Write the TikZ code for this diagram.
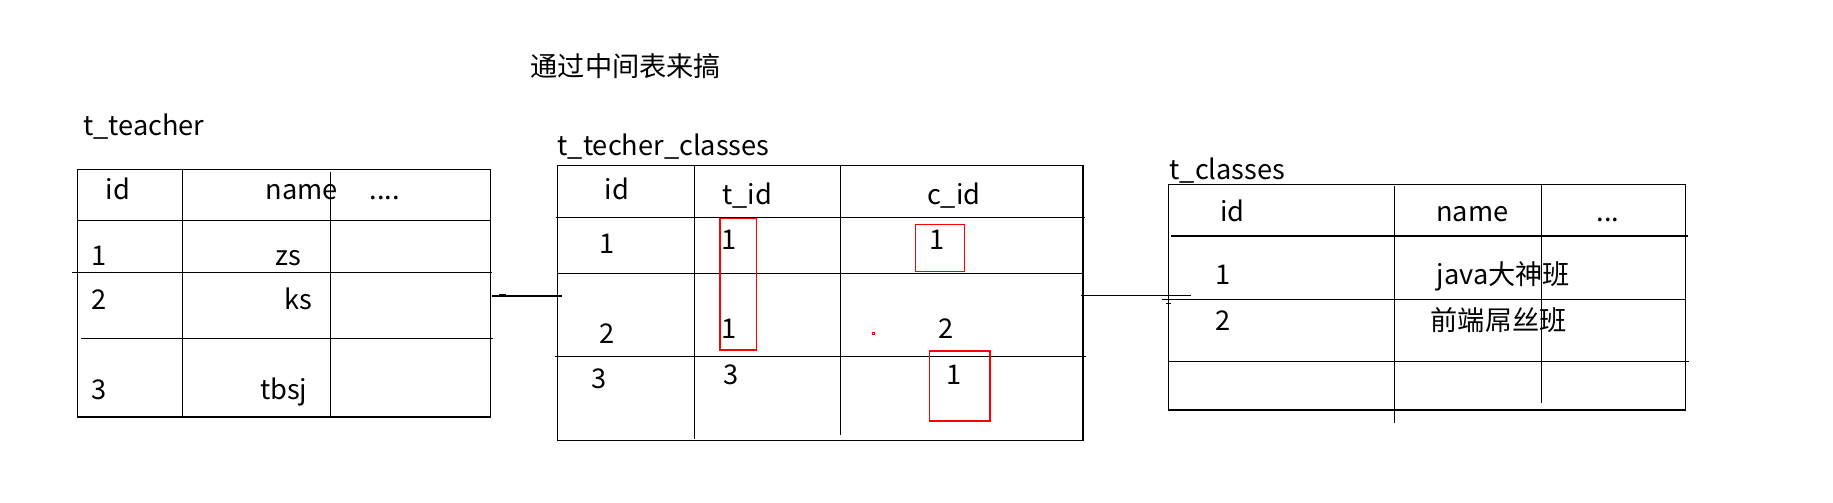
\documentclass[tikz,border=0pt]{standalone}
\usepackage{fontspec}
\setmainfont{Noto Sans CJK SC}
\begin{document}
\begin{tikzpicture}[x=0.5pt,y=-0.5pt,line width=0.6pt,
  txt/.style={anchor=base west,inner sep=0pt,font=\fontsize{13.6pt}{16pt}\selectfont},
  grid/.style={draw=black,line width=0.6pt},
  redbox/.style={draw=red,line width=0.55pt}]
\useasboundingbox[fill=white] (0,0) rectangle (1833,503);

% title
\node[txt] (title) at (530,76.6) {通过中间表来搞};

% ---------- t_teacher ----------
\node[txt] (lt) at (82.5,135) {t\_teacher};
\draw[grid] (77.3,169.4) rectangle (490.3,417);
\draw[grid] (182.6,169.4) -- (182.6,417);
\draw[grid] (330.4,171.7) -- (330.4,418.2);
\draw[grid] (77.3,220.3) -- (490.3,220.3);
\draw[grid] (72,272.2) -- (491.6,272.2);
\draw[grid] (81.2,338.3) -- (493,338.3);
\node[txt] (a1) at (105,199) {id};
\node[txt] (a2) at (265,199) {name};
\node[txt] (a3) at (369,199) {....};
\node[txt] (a4) at (91,265) {1};
\node[txt] (a5) at (275,265) {zs};
\node[txt] (a6) at (91,309.3) {2};
\node[txt] (a7) at (284,309.3) {ks};
\node[txt] (a8) at (91,399.3) {3};
\node[txt] (a9) at (259.5,399.3) {tbsj};

% connector 1
\coordinate (c1a) at (492,296);
\coordinate (c1b) at (561.7,296);
\draw[grid] (c1a) -- (c1b);
\draw[black,line width=1pt] (499,295) -- (506,295);

% ---------- t_techer_classes ----------
\node[txt] (lm) at (557,155) {t\_techer\_classes};
\draw[grid] (557.4,165.3) rectangle (1083,440.3);
\draw[grid] (694.7,165.3) -- (694.7,438.6);
\draw[grid] (840.3,165.3) -- (840.3,435.3);
\draw[grid] (556,217.3) -- (1085.3,217.3);
\draw[grid] (557.4,273.4) -- (1083,273.4);
\draw[grid] (555.4,356.3) -- (1086.4,356.3);
\node[txt] (b1) at (604,199) {id};
\node[txt] (b2) at (721.5,204) {t\_id};
\node[txt] (b3) at (926.5,204) {c\_id};
\node[txt] (b4) at (598.5,253.3) {1};
\node[txt] (b5) at (721,249.3) {1};
\node[txt] (b6) at (929,249.3) {1};
\node[txt] (b7) at (598.5,343.3) {2};
\node[txt] (b8) at (721,338.8) {1};
\node[txt] (b9) at (937.5,338.8) {2};
\node[txt] (b10) at (591,388.3) {3};
\node[txt] (b11) at (722.5,384) {3};
\node[txt] (b12) at (946,384) {1};
% red marks
\draw[redbox] (720,218.3) rectangle (756.8,350);
\draw[redbox] (915.7,224.3) rectangle (964.4,271.3);
\draw[redbox] (929.3,351) rectangle (990,421);
\draw[red,line width=0.5pt] (872.4,332.4) rectangle (874.4,334.4);

% connector 2
\coordinate (c2a) at (1081,295.7);
\coordinate (c2b) at (1190.7,295.7);
\draw[grid] (c2a) -- (c2b);

% ---------- t_classes ----------
\node[txt] (lc) at (1169,179.3) {t\_classes};
\draw[grid] (1168.7,184.3) rectangle (1685.4,410);
\draw[grid] (1394.5,185.7) -- (1394.5,423.2);
\draw[grid] (1541.4,184.3) -- (1541.4,402.6);
\draw[grid] (1171,236) -- (1687.7,236);
\draw[grid] (1162.3,299.3) -- (1685.4,299.3);
\draw[grid] (1168.7,361.3) -- (1689,361.3);
\draw[grid] (1166,303.7) -- (1171,303.7);
\node[txt] (d1) at (1219.5,221.6) {id};
\node[txt] (d2) at (1435.5,221.6) {name};
\node[txt] (d3) at (1596,221.6) {...};
\node[txt] (d4) at (1214.5,284.3) {1};
\node[txt] (d5) at (1436,284.3) {java大神班};
\node[txt] (d6) at (1215,330) {2};
\node[txt] (d7) at (1430,330) {前端屌丝班};
\end{tikzpicture}
\end{document}
